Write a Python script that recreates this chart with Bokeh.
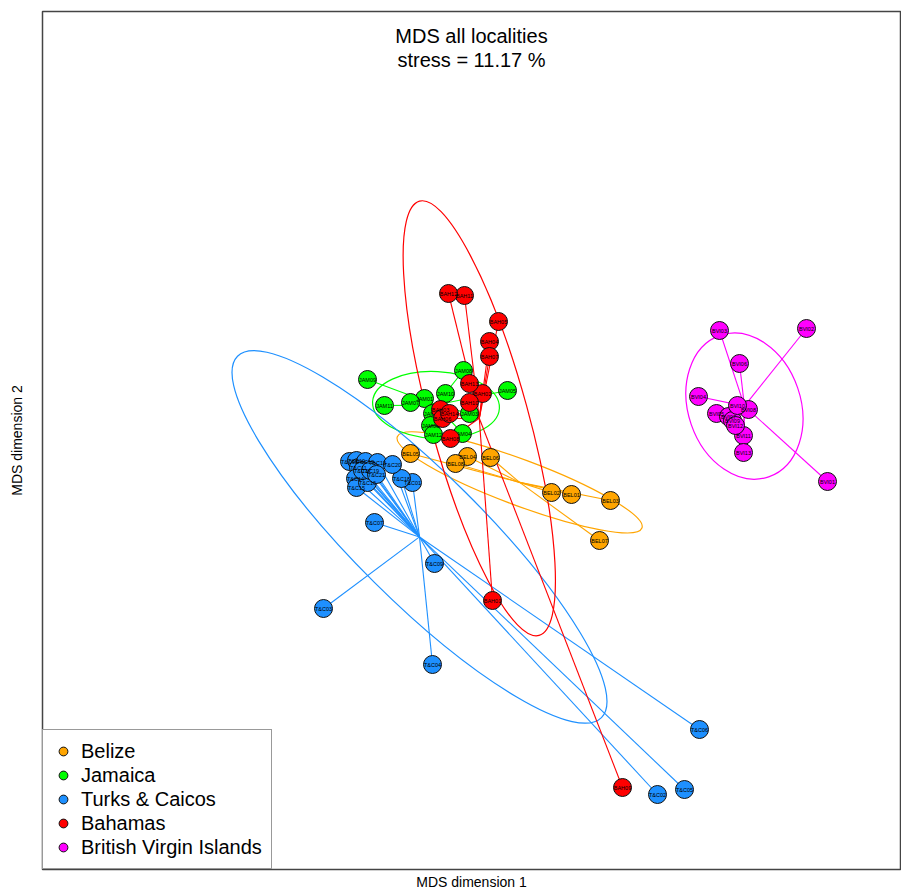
import numpy as np
from bokeh.plotting import figure
from bokeh.models import Label, Legend, LegendItem, Range1d, FixedTicker
from bokeh.core.properties import value
from bokeh.embed import file_html
from bokeh.resources import INLINE

FONT = "Liberation Sans"

# ---- data (MDS coordinates) ----
bel_names = ["BEL01", "BEL02", "BEL03", "BEL04", "BEL05", "BEL06", "BEL07", "BEL08"]
bel_x = [1.00, 0.80, 1.39, -0.04, -0.61, 0.19, 1.28, -0.16]
bel_y = [-0.54, -0.52, -0.60, -0.16, -0.13, -0.17, -1.00, -0.23]

jam_names = ["JAM01", "JAM02", "JAM03", "JAM04", "JAM05", "JAM06",
             "JAM07", "JAM08", "JAM09", "JAM10", "JAM11", "JAM12"]
jam_x = [-0.47, -0.39, -0.02, -0.09, 0.36, -0.41, -0.61, -0.08, -1.04, -0.26, -0.87, -0.38]
jam_y = [0.42, 0.27, 0.27, 0.07, 0.50, 0.15, 0.38, 0.70, 0.61, 0.47, 0.35, 0.06]

tc_names = ["T&C01", "T&C02", "T&C03", "T&C04", "T&C05", "T&C06", "T&C07",
            "T&C08", "T&C09", "T&C10", "T&C11", "T&C12", "T&C13", "T&C14",
            "T&C15", "T&C16", "T&C17", "T&C18", "T&C19", "T&C20", "T&C21"]
tc_x = [-0.59, 1.86, -1.48, -0.39, 2.13, 2.28, -0.97, -1.22, -0.37, -1.15, -1.13,
        -1.06, -0.94, -1.16, -1.15, -1.04, -1.09, -0.70, -1.01, -0.79, -0.95]
tc_y = [-0.42, -3.54, -1.68, -2.24, -3.49, -2.89, -0.82, -0.21, -1.23, -0.20, -0.27,
        -0.21, -0.22, -0.38, -0.47, -0.42, -0.30, -0.38, -0.30, -0.24, -0.34]

bah_names = ["BAH01", "BAH02", "BAH03", "BAH04", "BAH05", "BAH06", "BAH07",
             "BAH08", "BAH09", "BAH10", "BAH11", "BAH12", "BAH13", "BAH14"]
bah_x = [0.21, 0.11, -0.31, 0.18, 0.27, -0.29, 0.18, -0.21, 1.51, -0.02, -0.07, -0.23, -0.02, -0.22]
bah_y = [-1.60, 0.47, 0.31, 0.99, 1.19, 0.22, 0.84, 0.02, -3.47, 0.38, 1.45, 1.47, 0.57, 0.27]

bvi_names = ["BVI01", "BVI02", "BVI03", "BVI04", "BVI05", "BVI06", "BVI07",
             "BVI08", "BVI09", "BVI10", "BVI11", "BVI12", "BVI13"]
bvi_x = [3.56, 3.35, 2.48, 2.27, 2.45, 2.68, 2.57, 2.77, 2.61, 2.66, 2.72, 2.64, 2.72]
bvi_y = [-0.41, 1.12, 1.10, 0.44, 0.27, 0.77, 0.24, 0.31, 0.20, 0.35, 0.05, 0.15, -0.12]

group_labels = ["Belize", "Jamaica", "Turks & Caicos", "Bahamas", "British Virgin Islands"]
group_colors = ["#FFA500", "#00FF00", "#1E90FF", "#FF0000", "#FF00FF"]

title_text = "MDS all localities"
stress_text = "stress = 11.17 %"

groups = [
    (bel_names, bel_x, bel_y),
    (jam_names, jam_x, jam_y),
    (tc_names, tc_x, tc_y),
    (bah_names, bah_x, bah_y),
    (bvi_names, bvi_x, bvi_y),
]

ELL_K = np.sqrt(2 * np.log(4))  # 75% coverage ellipse based on sd

p = figure(width=901, height=892, output_backend="svg", toolbar_location=None,
           x_range=Range1d(-4.29, 4.29), y_range=Range1d(-4.29, 4.29),
           min_border_left=42, min_border_right=1, min_border_top=11, min_border_bottom=23)
p.grid.visible = False
p.background_fill_color = "white"
p.border_fill_color = "white"
p.outline_line_color = "#444444"
p.outline_line_width = 1.5

for ax, lab, standoff in ((p.xaxis[0], "MDS dimension 1", 4), (p.yaxis[0], "MDS dimension 2", 18)):
    ax.ticker = FixedTicker(ticks=[])
    ax.axis_line_color = None
    ax.major_tick_line_color = None
    ax.minor_tick_line_color = None
    ax.major_label_standoff = 0
    ax.major_tick_out = 0
    ax.axis_label = lab
    ax.axis_label_text_font = FONT
    ax.axis_label_text_font_style = "normal"
    ax.axis_label_text_font_size = "14px"
    ax.axis_label_text_color = "black"
    ax.axis_label_standoff = standoff

# star lines and ellipses first
for (names, xs, ys), col in zip(groups, group_colors):
    xs = np.array(xs); ys = np.array(ys)
    cx, cy = xs.mean(), ys.mean()
    p.segment(x0=[cx] * len(xs), y0=[cy] * len(ys), x1=xs, y1=ys, line_color=col, line_width=1.1)
    cov = np.cov(np.vstack([xs, ys]))
    vals, vecs = np.linalg.eigh(cov)
    major = vecs[:, 1]
    ang = np.arctan2(major[1], major[0])
    p.ellipse(x=[cx], y=[cy], width=[2 * ELL_K * np.sqrt(vals[1])],
              height=[2 * ELL_K * np.sqrt(vals[0])], angle=[ang],
              fill_color=None, line_color=col, line_width=1.2)

items = []
for (names, xs, ys), col, lab in zip(groups, group_colors, group_labels):
    r = p.scatter(x=xs, y=ys, size=18, fill_color=col, line_color="#111111", line_width=1)
    p.text(x=xs, y=ys, text=names, text_font=value(FONT), text_font_size="5.5px",
           text_align="center", text_baseline="middle", text_color="black")
    items.append(LegendItem(label=lab, renderers=[r]))

legend = Legend(items=items, location="bottom_left", margin=0, padding=9, spacing=0,
                label_height=24, glyph_height=24, glyph_width=22, label_standoff=7,
                border_line_color="#333333", border_line_width=1,
                label_text_font=FONT, label_text_font_size="20px", label_text_color="black",
                background_fill_color="white", background_fill_alpha=1)
p.add_layout(legend)

p.add_layout(Label(x=0, y=4.05, text=title_text, text_align="center", text_baseline="alphabetic",
                   text_font=FONT, text_font_size="20px", text_color="black"))
p.add_layout(Label(x=0, y=3.81, text=stress_text, text_align="center", text_baseline="alphabetic",
                   text_font=FONT, text_font_size="20px", text_color="black"))

open("out.html", "w").write(file_html(p, INLINE))
